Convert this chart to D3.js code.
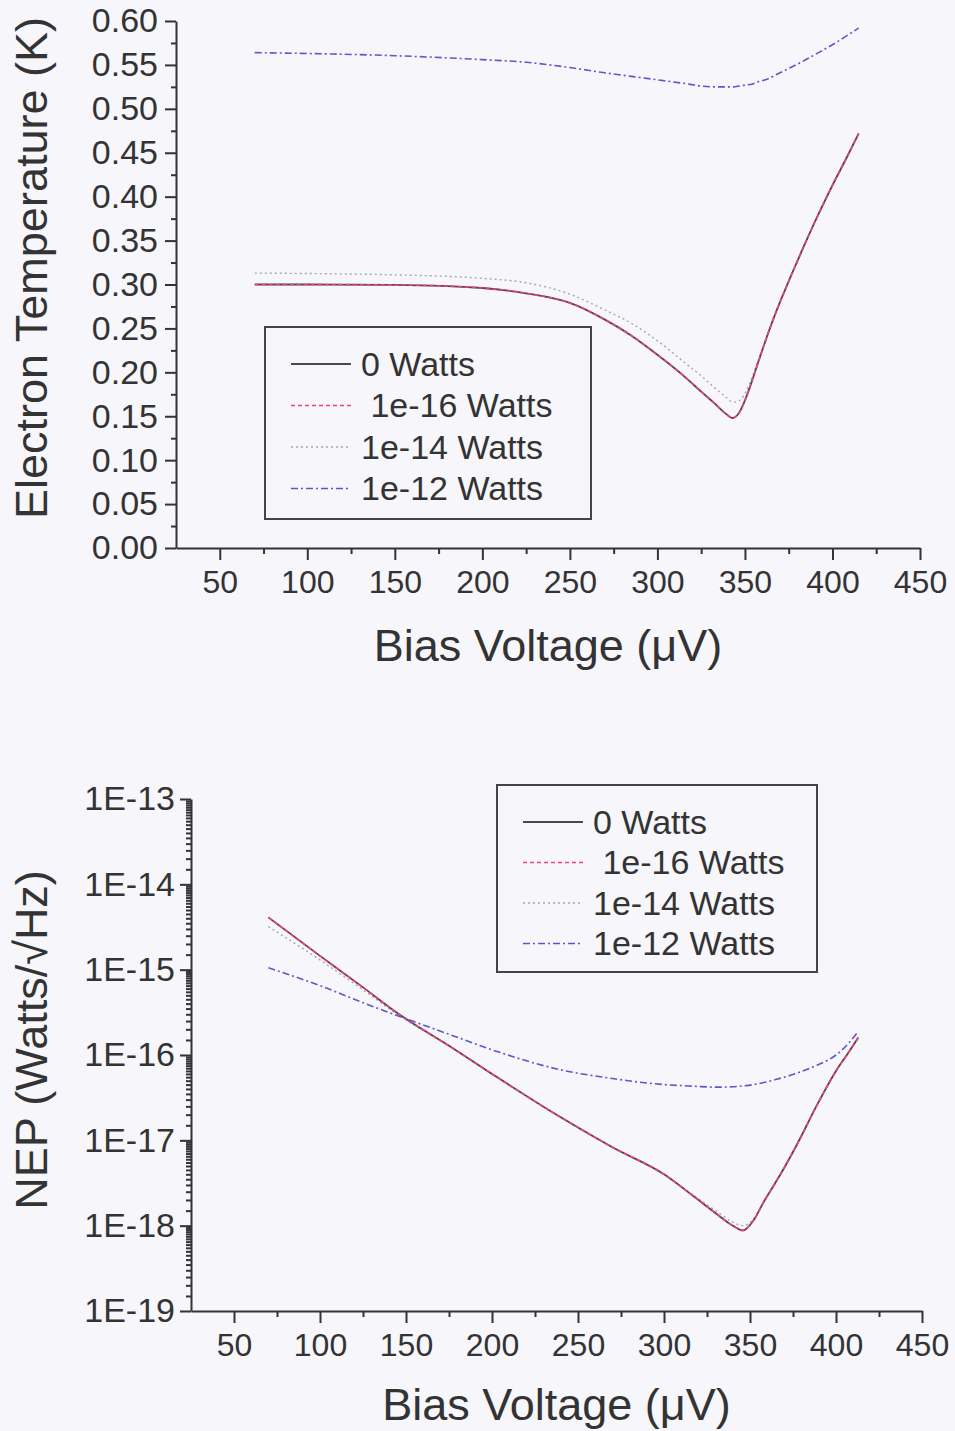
<!DOCTYPE html>
<html>
<head>
<meta charset="utf-8">
<script src="https://cdn.jsdelivr.net/npm/d3@7"></script>
<style>
  body { margin: 0; background: #f6f6fb; }
  svg { display: block; font-family: 'Liberation Sans', Arial, sans-serif; }
  .axis path, .axis line { stroke: #333; stroke-width: 2; }
  .axis text { fill: #333; }
</style>
</head>
<body>
<svg id="chart" width="955" height="1431"></svg>
<script>
// top chart: electron temperature (K) against bias (uV)
const temp_bias = [70, 100, 150, 200, 225, 250, 270, 285, 300, 315, 325, 333, 339, 343, 347, 350, 354, 358, 363, 368, 374, 382, 392, 400, 408, 415];
const temp_0w   = [0.300, 0.300, 0.2995, 0.296, 0.290, 0.279, 0.260, 0.242, 0.220, 0.196, 0.178, 0.164, 0.153, 0.148, 0.155, 0.168, 0.190, 0.214, 0.243, 0.270, 0.299, 0.336, 0.380, 0.413, 0.444, 0.472];
const temp_1e16 = [0.300, 0.300, 0.2995, 0.296, 0.290, 0.279, 0.260, 0.242, 0.220, 0.196, 0.178, 0.164, 0.153, 0.148, 0.155, 0.168, 0.190, 0.214, 0.243, 0.270, 0.299, 0.336, 0.380, 0.413, 0.444, 0.472];
const temp_1e14 = [0.313, 0.3125, 0.311, 0.307, 0.302, 0.289, 0.271, 0.256, 0.236, 0.212, 0.196, 0.182, 0.172, 0.166, 0.168, 0.176, 0.194, 0.216, 0.244, 0.270, 0.299, 0.336, 0.380, 0.413, 0.444, 0.472];
const temp_1e12 = [0.564, 0.563, 0.5605, 0.556, 0.553, 0.547, 0.541, 0.537, 0.533, 0.529, 0.526, 0.525, 0.525, 0.525, 0.526, 0.527, 0.528, 0.531, 0.534, 0.539, 0.545, 0.553, 0.564, 0.573, 0.583, 0.592];

// bottom chart: NEP (W/sqrt(Hz)) against bias (uV)
const nep_bias = [70, 100, 125, 146, 175, 200, 240, 270, 300, 318, 330, 340, 346, 352, 358, 364, 370, 378, 389, 400, 407, 413];
const nep_0w   = [4.1e-15, 1.45e-15, 6.2e-16, 3.0e-16, 1.28e-16, 6.0e-17, 1.86e-17, 8.3e-18, 4.0e-18, 2.15e-18, 1.4e-18, 1.0e-18, 8.8e-19, 1.15e-18, 1.9e-18, 3.0e-18, 4.8e-18, 9.5e-18, 2.6e-17, 6.5e-17, 1.05e-16, 1.6e-16];
const nep_1e16 = [4.1e-15, 1.45e-15, 6.2e-16, 3.0e-16, 1.28e-16, 6.0e-17, 1.86e-17, 8.3e-18, 4.0e-18, 2.15e-18, 1.4e-18, 1.0e-18, 8.8e-19, 1.15e-18, 1.9e-18, 3.0e-18, 4.8e-18, 9.5e-18, 2.6e-17, 6.5e-17, 1.05e-16, 1.6e-16];
const nep_1e14 = [3.2e-15, 1.3e-15, 5.8e-16, 2.9e-16, 1.28e-16, 6.0e-17, 1.86e-17, 8.3e-18, 4.0e-18, 2.2e-18, 1.5e-18, 1.1e-18, 1.0e-18, 1.2e-18, 1.9e-18, 3.0e-18, 4.8e-18, 9.5e-18, 2.6e-17, 6.5e-17, 1.05e-16, 1.6e-16];
const nep_1e12 = [1.05e-15, 6.5e-16, 4.1e-16, 2.85e-16, 1.75e-16, 1.15e-16, 6.7e-17, 5.3e-17, 4.5e-17, 4.3e-17, 4.2e-17, 4.25e-17, 4.35e-17, 4.5e-17, 4.75e-17, 5.1e-17, 5.5e-17, 6.2e-17, 7.6e-17, 1.0e-16, 1.35e-16, 1.9e-16];

const series_names = ['0 Watts', ' 1e-16 Watts', '1e-14 Watts', '1e-12 Watts'];
const bias_ticks = [50, 100, 150, 200, 250, 300, 350, 400, 450];
const temp_ticks = [0, 0.05, 0.10, 0.15, 0.20, 0.25, 0.30, 0.35, 0.40, 0.45, 0.50, 0.55, 0.60];
const nep_ticks = [1e-19, 1e-18, 1e-17, 1e-16, 1e-15, 1e-14, 1e-13];
const nep_tick_labels = ['1E-19', '1E-18', '1E-17', '1E-16', '1E-15', '1E-14', '1E-13'];

const STYLES = [
    {color: '#4a4a4a', dash: null,      width: 1.8},
    {color: '#ff3b7a', dash: '4,3',     width: 1.6},
    {color: '#a6a6b6', dash: '2,3',     width: 1.4},
    {color: '#5a5acc', dash: '7,3,2,3', width: 1.6}
];
const DRAW_ORDER = [2, 0, 1, 3];

const svg = d3.select('#chart');

function draw_panel(opt) {
    let x = d3.scaleLinear().domain([25, 450]).range([opt.left, opt.right]);
    let y = opt.y;

    // minor ticks first so the major ones sit over them
    svg.append('g')
        .attr('class', 'axis')
        .attr('transform', `translate(0, ${opt.bottom})`)
        .call(d3.axisBottom(x).tickValues(d3.range(75, 450, 50)).tickSize(6).tickFormat(''))
        .select('.domain').remove();
    svg.append('g')
        .attr('class', 'axis')
        .attr('transform', `translate(${opt.left}, 0)`)
        .call(d3.axisLeft(y).tickValues(opt.y_minor).tickSize(5).tickFormat(''))
        .select('.domain').remove();

    svg.append('g')
        .attr('class', 'axis')
        .attr('transform', `translate(0, ${opt.bottom})`)
        .call(d3.axisBottom(x).tickValues(bias_ticks).tickSize(12).tickPadding(10).tickSizeOuter(0))
        .selectAll('text').attr('font-size', 32);
    svg.append('g')
        .attr('class', 'axis')
        .attr('transform', `translate(${opt.left}, 0)`)
        .call(d3.axisLeft(y).tickValues(opt.y_ticks).tickSize(11).tickPadding(opt.y_pad)
            .tickSizeOuter(0).tickFormat(opt.y_format))
        .selectAll('text').attr('font-size', 34);

    let line = d3.line()
        .x((d, i) => x(opt.bias[i]))
        .y(d => y(d))
        .curve(d3.curveMonotoneX);

    DRAW_ORDER.forEach(k => {
        svg.append('path')
            .datum(opt.series[k])
            .attr('d', line)
            .attr('fill', 'none')
            .attr('stroke', STYLES[k].color)
            .attr('stroke-width', STYLES[k].width)
            .attr('stroke-dasharray', STYLES[k].dash);
    });

    // axis titles
    svg.append('text')
        .attr('x', (opt.left + opt.right) / 2)
        .attr('y', opt.bottom + opt.title_gap)
        .attr('text-anchor', 'middle')
        .attr('font-size', 45)
        .attr('fill', '#333')
        .text('Bias Voltage (\u03bcV)');
    svg.append('text')
        .attr('transform', `translate(47, ${opt.title_y}) rotate(-90)`)
        .attr('text-anchor', 'middle')
        .attr('font-size', 45)
        .attr('fill', '#333')
        .text(opt.y_title);

    // legend
    let lg = opt.legend;
    svg.append('rect')
        .attr('x', lg.x).attr('y', lg.y)
        .attr('width', lg.w).attr('height', lg.h)
        .attr('fill', 'none')
        .attr('stroke', '#444')
        .attr('stroke-width', 2);
    series_names.forEach((name, k) => {
        let ry = lg.y + 37 + k * lg.step;
        svg.append('line')
            .attr('x1', lg.x + 26).attr('x2', lg.x + 86)
            .attr('y1', ry).attr('y2', ry)
            .attr('stroke', STYLES[k].color)
            .attr('stroke-width', STYLES[k].width)
            .attr('stroke-dasharray', STYLES[k].dash);
        svg.append('text')
            .attr('x', lg.x + 96)
            .attr('y', ry)
            .attr('dy', '0.35em')
            .attr('font-size', 34)
            .attr('fill', '#333')
            .attr('xml:space', 'preserve')
            .style('white-space', 'pre')
            .text(name);
    });
}

let temp_minor = d3.range(0.025, 0.6, 0.05);
draw_panel({
    left: 176, right: 920, bottom: 548,
    y: d3.scaleLinear().domain([0, 0.6]).range([548, 21]),
    y_ticks: temp_ticks,
    y_minor: temp_minor,
    y_format: d3.format('.2f'),
    y_pad: 7,
    y_title: 'Electron Temperature (K)',
    title_y: 268,
    title_gap: 113,
    bias: temp_bias,
    series: [temp_0w, temp_1e16, temp_1e14, temp_1e12],
    legend: {x: 265, y: 327, w: 326, h: 192, step: 41.5}
});

let nep_minor = [];
for (let e = -19; e < -13; e++) {
    for (let m = 1.5; m < 10; m += 0.5) nep_minor.push(m * Math.pow(10, e));
}
draw_panel({
    left: 191, right: 922, bottom: 1311,
    y: d3.scaleLog().domain([1e-19, 1e-13]).range([1311, 799]),
    y_ticks: nep_ticks,
    y_minor: nep_minor,
    y_format: (d, i) => nep_tick_labels[i],
    y_pad: 5,
    y_title: 'NEP (Watts/\u221aHz)',
    title_y: 1040,
    title_gap: 109,
    bias: nep_bias,
    series: [nep_0w, nep_1e16, nep_1e14, nep_1e12],
    legend: {x: 497, y: 785, w: 320, h: 187, step: 40.5}
});
</script>
</body>
</html>
